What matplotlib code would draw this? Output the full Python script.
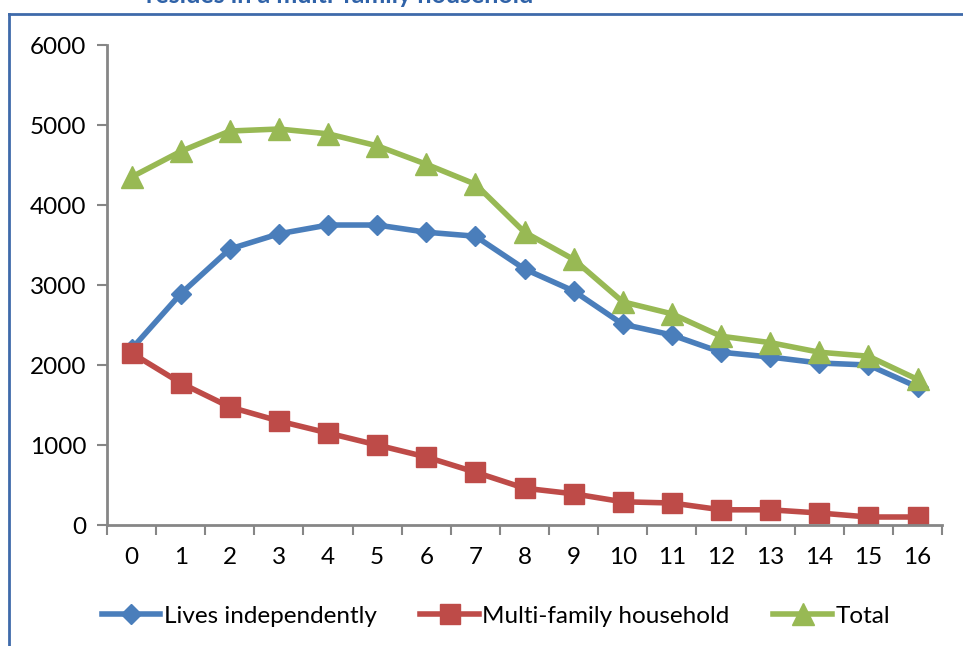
import matplotlib.pyplot as plt
from matplotlib.lines import Line2D

plt.rcParams['font.family'] = ['Lato', 'DejaVu Sans']

# Number of people by age group index
ages = list(range(17))
independent = [2200, 2890, 3450, 3640, 3750, 3750, 3660, 3610, 3200, 2925,
               2510, 2375, 2160, 2100, 2025, 2000, 1725]
multi_family = [2150, 1775, 1475, 1300, 1150, 1000, 850, 660, 460, 390,
                290, 275, 190, 190, 150, 100, 100]
total = [4350, 4670, 4925, 4950, 4890, 4740, 4510, 4260, 3660, 3320,
         2790, 2640, 2360, 2280, 2160, 2110, 1820]

blue = '#4A7EBB'
red = '#BE4B48'
green = '#98B954'
axis_grey = '#868686'

fig = plt.figure(figsize=(9.63, 6.46), dpi=100)
ax = fig.add_axes([0.1111, 0.1873, 0.8672, 0.743])

ax.plot(ages, independent, color=blue, lw=4, marker='D', ms=10.5,
        mec=blue, label='Lives independently')
ax.plot(ages, multi_family, color=red, lw=4, marker='s', ms=14,
        mec=red, label='Multi-family household')
ax.plot(ages, total, color=green, lw=4, marker='^', ms=15.5,
        mec=green, label='Total')

ax.set_xlim(-0.5, 16.5)
ax.set_ylim(0, 6000)
ax.set_yticks(range(0, 6001, 1000))
ax.set_xticks(ages)
ax.set_xticks([a - 0.5 for a in ages] + [16.5], minor=True)
ax.tick_params(axis='x', which='major', length=0, pad=16, labelsize=17.5)
ax.tick_params(axis='x', which='minor', length=7, width=1.5, color=axis_grey)
ax.tick_params(axis='y', length=7, width=1.5, color=axis_grey, pad=8,
               labelsize=17.5)

for side in ('top', 'right'):
    ax.spines[side].set_visible(False)
for side in ('left', 'bottom'):
    ax.spines[side].set_color(axis_grey)
    ax.spines[side].set_linewidth(2)

ax.legend(loc='center', bbox_to_anchor=(0.515, 1 - 616 / 646),
          bbox_transform=fig.transFigure, ncol=3, frameon=False, fontsize=17.5,
          handlelength=2.4, handletextpad=0.15, columnspacing=1.8)

# Chart frame and clipped heading
frame_color = '#3F6AAA'
fig.add_artist(Line2D([9 / 963, 9 / 963], [0, 1 - 14 / 646],
                      transform=fig.transFigure, color=frame_color, lw=2))
fig.add_artist(Line2D([9 / 963, 1], [1 - 14 / 646, 1 - 14 / 646],
                      transform=fig.transFigure, color=frame_color, lw=2))
fig.text(340 / 963, 1 - 3 / 646, 'resides in a multi-family household',
         ha='center', va='baseline', fontsize=18, fontweight='bold',
         color='#2F62A8')

fig.savefig('out.png', dpi=100)
